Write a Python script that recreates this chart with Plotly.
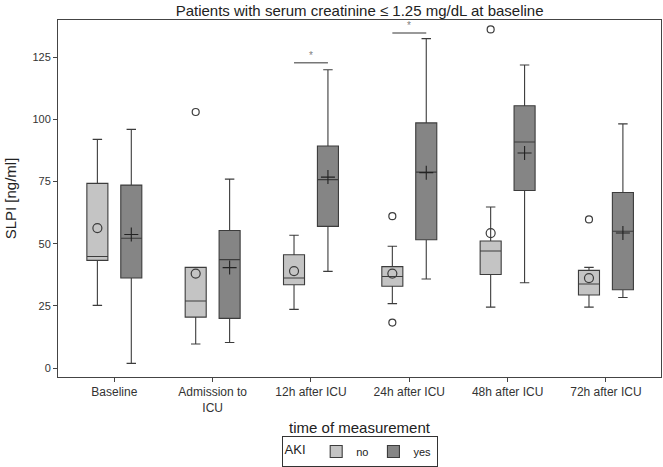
import plotly.graph_objects as go

categories = ["Baseline", "Admission to<br>ICU", "12h after ICU", "24h after ICU",
              "48h after ICU", "72h after ICU"]

# AKI = no
no_lower = [25.2, 9.7, 23.6, 25.9, 24.5, 24.5]
no_q1 = [43.3, 20.5, 33.5, 32.9, 37.6, 29.4]
no_median = [44.9, 27.0, 36.2, 36.8, 47.1, 33.8]
no_q3 = [74.3, 40.5, 45.6, 40.8, 51.1, 39.3]
no_upper = [92.0, 40.5, 53.4, 49.0, 64.8, 40.5]
no_mean = [56.3, 38.0, 39.0, 38.0, 54.3, 36.2]
no_outlier_cat = ["Admission to<br>ICU", "24h after ICU", "24h after ICU",
                  "48h after ICU", "72h after ICU"]
no_outlier_val = [103.0, 61.1, 18.3, 136.2, 59.8]

# AKI = yes
yes_lower = [1.9, 10.3, 38.9, 35.8, 34.3, 28.4]
yes_q1 = [36.2, 20.0, 57.0, 51.6, 71.4, 31.5]
yes_median = [52.2, 43.6, 75.8, 78.8, 90.9, 55.0]
yes_q3 = [73.6, 55.3, 89.3, 98.6, 105.5, 70.6]
yes_upper = [96.0, 76.0, 120.0, 132.5, 121.9, 98.2]
yes_mean = [53.7, 40.4, 76.8, 78.6, 86.5, 54.3]

# significance brackets
sig_cat = ["12h after ICU", "24h after ICU"]
sig_val = [122.8, 134.8]

BOXGAP = 0.31
LINE = "#3c3c3c"
FONT = "Liberation Sans, Arial, sans-serif"

fig = go.Figure()
fig.add_trace(go.Box(
    name="no", x=categories, q1=no_q1, median=no_median, q3=no_q3,
    lowerfence=no_lower, upperfence=no_upper,
    fillcolor="#c4c4c4", line=dict(color=LINE, width=1.1),
    whiskerwidth=0.45, boxpoints=False, offsetgroup="no", legendgroup="no"))
fig.add_trace(go.Box(
    name="yes", x=categories, q1=yes_q1, median=yes_median, q3=yes_q3,
    lowerfence=yes_lower, upperfence=yes_upper,
    fillcolor="#858585", line=dict(color=LINE, width=1.1),
    whiskerwidth=0.45, boxpoints=False, offsetgroup="yes", legendgroup="yes"))

# means
fig.add_trace(go.Scatter(
    x=categories, y=no_mean, mode="markers", offsetgroup="no", legendgroup="no",
    showlegend=False, hoverinfo="skip",
    marker=dict(symbol="circle-open", size=9, color=LINE, line=dict(width=1.2))))
fig.add_trace(go.Scatter(
    x=categories, y=yes_mean, mode="markers", offsetgroup="yes", legendgroup="yes",
    showlegend=False, hoverinfo="skip",
    marker=dict(symbol="cross-thin-open", size=10, color="#222222", line=dict(width=1.1))))
# outliers
fig.add_trace(go.Scatter(
    x=no_outlier_cat, y=no_outlier_val, mode="markers", offsetgroup="no", legendgroup="no",
    showlegend=False, hoverinfo="skip",
    marker=dict(symbol="circle-open", size=7, color=LINE, line=dict(width=1.2))))

# significance bars
half = (1 - BOXGAP) / 4
for c, v in zip(sig_cat, sig_val):
    i = categories.index(c)
    fig.add_shape(type="line", xref="x", yref="y", x0=i - half, x1=i + half,
                  y0=v, y1=v, line=dict(color="#777777", width=1.5))
    fig.add_annotation(x=c, y=v, text="*", showarrow=False, yshift=7,
                       font=dict(size=10, color="#808080", family=FONT))

fig.update_layout(
    width=663, height=467,
    margin=dict(l=58, r=2, t=20, b=90),
    paper_bgcolor="white", plot_bgcolor="white",
    font=dict(family=FONT, size=12, color="#333333"),
    title=dict(text="Patients with serum creatinine \u2264 1.25 mg/dL at baseline",
               x=0.5424, xanchor="center", y=0.978, yanchor="middle",
               font=dict(size=15, color="#222222")),
    boxmode="group", boxgap=BOXGAP, boxgroupgap=0.38,
    scattermode="group", scattergap=BOXGAP,
    showlegend=True,
    legend=dict(orientation="h", x=0.5424, xref="container", xanchor="center",
                y=0.0, yref="container", yanchor="bottom",
                title=dict(text="AKI ", font=dict(size=13, color="#222222")),
                bordercolor="#333333", borderwidth=1,
                font=dict(size=11, color="#222222"), itemwidth=30,
                tracegroupgap=0),
)
fig.update_xaxes(
    type="category", categoryorder="array", categoryarray=categories,
    range=[-0.573, 5.56], showline=True, linecolor="#444444", linewidth=1,
    mirror=True, ticks="outside", ticklen=4, tickcolor="#444444",
    showgrid=False, zeroline=False,
    tickfont=dict(size=12, color="#333333"),
    title=dict(text="time of measurement", font=dict(size=15, color="#222222"), standoff=8))
fig.update_yaxes(
    range=[-3.6, 140], tickvals=[0, 25, 50, 75, 100, 125],
    showline=True, linecolor="#444444", linewidth=1, mirror=True,
    ticks="outside", ticklen=4, tickcolor="#444444",
    showgrid=False, zeroline=False,
    tickfont=dict(size=11, color="#333333"),
    title=dict(text="SLPI [ng/ml]", font=dict(size=15, color="#222222"), standoff=12))

fig.write_html("out.html", config={"displayModeBar": False},
               post_script="document.body.style.margin='0';")
